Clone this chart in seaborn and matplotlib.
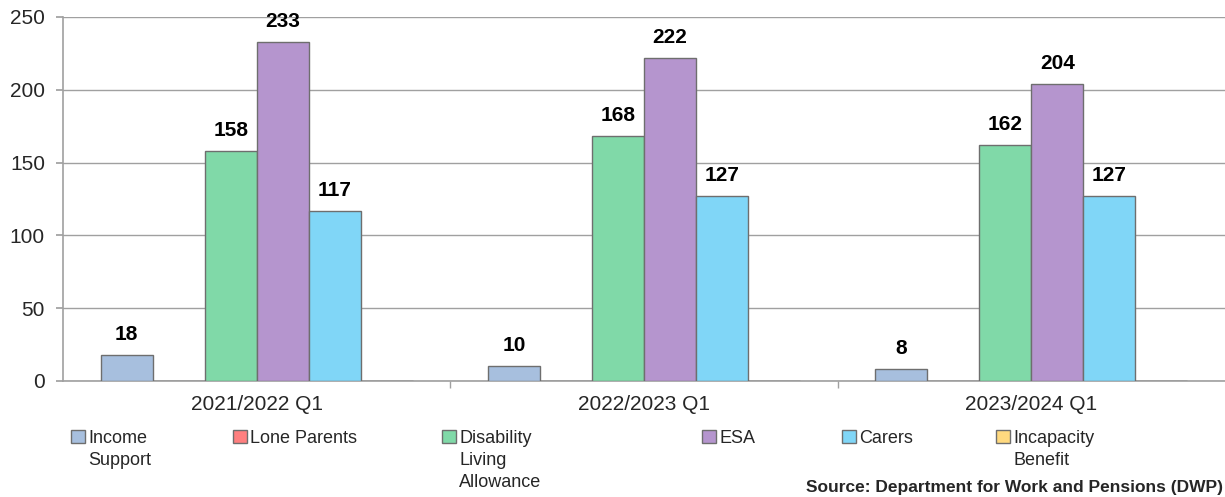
import matplotlib
matplotlib.use("Agg")
import matplotlib.pyplot as plt
import seaborn as sns
import pandas as pd
from matplotlib.patches import Patch

periods = ["2021/2022 Q1", "2022/2023 Q1", "2023/2024 Q1"]
series = ["Income\nSupport", "Lone Parents", "Disability\nLiving\nAllowance",
          "ESA", "Carers", "Incapacity\nBenefit"]
income_support = [18, 10, 8]
lone_parents = [0, 0, 0]
disability_living_allowance = [158, 168, 162]
esa = [233, 222, 204]
carers = [117, 127, 127]
incapacity_benefit = [0, 0, 0]
colors = ["#A7BFDE", "#FF7F7F", "#80D9A8", "#B595CE", "#80D6F7", "#FFD97F"]
yticks = [0, 50, 100, 150, 200, 250]

values = [income_support, lone_parents, disability_living_allowance,
          esa, carers, incapacity_benefit]
rows = []
for s, vals in zip(series, values):
    for p, v in zip(periods, vals):
        rows.append({"period": p, "series": s, "value": v})
df = pd.DataFrame(rows)

sns.set_theme(style="white")
plt.rcParams["font.family"] = ["Liberation Sans", "DejaVu Sans"]

fig = plt.figure(figsize=(12.25, 4.97), dpi=100)
ax = fig.add_axes([63 / 1225, 1 - 381 / 497, 1 - 63 / 1225, (381 - 17) / 497])

palette = dict(zip(series, colors))
sns.barplot(data=df, x="period", y="value", hue="series", hue_order=series,
            order=periods, palette=palette, width=0.805, edgecolor="#6e6e6e",
            linewidth=1.0, saturation=1, legend=False, ax=ax, zorder=3)

for cont in ax.containers:
    labels = [f"{int(b.get_height())}" if b.get_height() > 0 else "" for b in cont]
    ax.bar_label(cont, labels=labels, padding=8, fontsize=15,
                 fontweight="bold", color="black")

ax.set_xlim(-0.5, 2.5)
ax.set_ylim(0, 250)
ax.set_yticks(yticks)
ax.yaxis.grid(True, color="#a0a0a0", linewidth=1.0, zorder=0)
ax.set_axisbelow(True)
ax.set_xlabel("")
ax.set_ylabel("")
for side in ["top", "right"]:
    ax.spines[side].set_visible(False)
for side in ["left", "bottom"]:
    ax.spines[side].set_color("#a0a0a0")
    ax.spines[side].set_linewidth(1.2)
ax.tick_params(axis="y", length=5, color="#a0a0a0", labelsize=15, pad=8,
               left=True)
ax.tick_params(axis="x", which="major", length=0, labelsize=15, pad=10)
ax.set_xticks([0.5, 1.5], minor=True)
ax.tick_params(axis="x", which="minor", length=5, color="#a0a0a0", bottom=True)

# legend entries placed individually, like the original layout
leg_x = [71, 233, 442, 702, 842, 996]
for s, c, x in zip(series, colors, leg_x):
    h = Patch(facecolor=c, edgecolor="#6e6e6e", linewidth=1.0)
    lg = fig.legend([h], [s], loc="upper left",
                    bbox_to_anchor=(x / 1225, 1 - 430 / 497),
                    frameon=False, fontsize=13, handlelength=0.75,
                    handleheight=0.75, handletextpad=0.2, borderpad=0,
                    borderaxespad=0, labelspacing=0)
    for t in lg.get_texts():
        t.set_linespacing(1.4)
    for col in lg._legend_handle_box.get_children():
        for entry in col.get_children():
            entry.align = "top"

fig.text(1223 / 1225, 2 / 497,
         "Source: Department for Work and Pensions (DWP)",
         ha="right", va="bottom", fontsize=12.5, fontweight="bold")

fig.savefig("out.png", dpi=100)
